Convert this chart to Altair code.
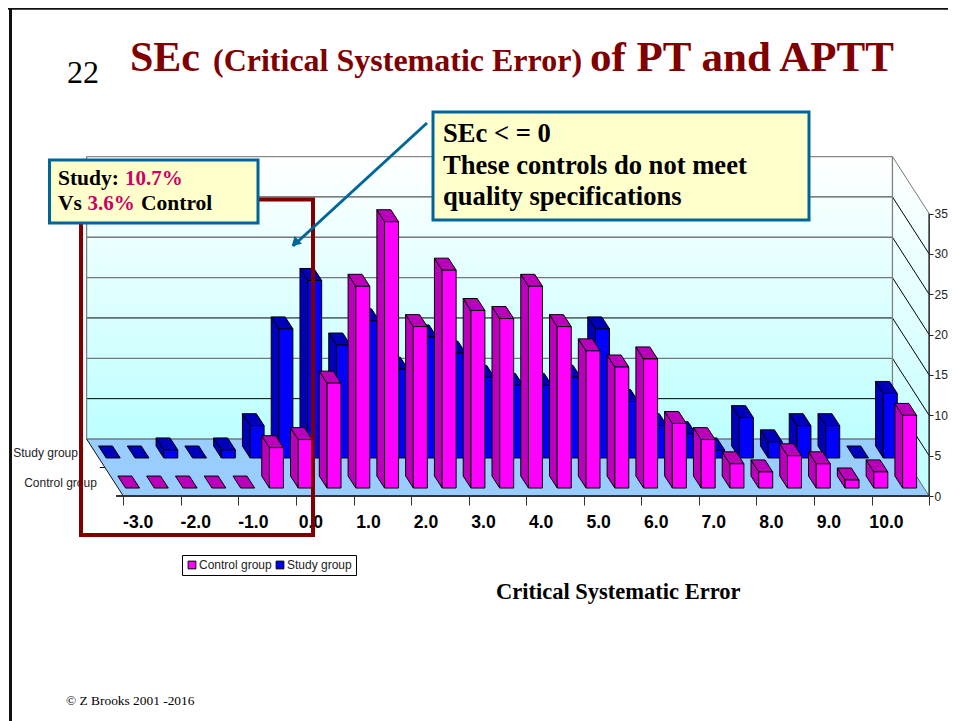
import altair as alt
import pandas as pd

# ---------- data ----------
bins = list(range(28))
control_group = [0, 0, 0, 0, 0, 5, 6, 13, 25, 33, 20, 27, 22, 21, 25, 20, 17, 15, 16, 8, 6, 3, 2, 4, 3, 1, 2, 9]
study_group = [0, 0, 1, 0, 1, 4, 16, 22, 14, 17, 11, 15, 13, 10, 9, 9, 10, 16, 7, 4, 3, 1, 5, 2, 4, 4, 0, 8]
y_ticks = [0, 5, 10, 15, 20, 25, 30, 35]
x_labels = ["-3.0", "-2.0", "-1.0", "0.0", "1.0", "2.0", "3.0", "4.0", "5.0", "6.0", "7.0", "8.0", "9.0", "10.0", ""]
series_names = ["Control group", "Study group"]

# ---------- projection of the 3-D look ----------
W, H = 940, 713
RIGHT = 8 + W
PX_BIN = 28.78
PX_VAL = 8.07
X0, Y0 = 123.3, 496.0
DEPTH_X = -36.7 / PX_BIN
DEPTH_Y = 57.0 / PX_VAL
GAP, BAR_W = 0.257, 0.486
BAR_DEPTH = 0.21
FRONT = {"Control group": 0.14, "Study group": 0.667}

xs = alt.Scale(domain=[(8 - X0) / PX_BIN, (RIGHT - X0) / PX_BIN], nice=False, zero=False)
ys = alt.Scale(domain=[(Y0 - 721) / PX_VAL, (Y0 - 8) / PX_VAL], nice=False, zero=False)
color_scale = alt.Scale(domain=series_names, range=["#FF00FF", "#0000FF"])
SIDE = {"Control group": "#BB00BB", "Study group": "#0000BB"}


def X(**k):
    return alt.X("x:Q", scale=xs, axis=k.pop("axis", None), title=None)


def Y(**k):
    return alt.Y("y:Q", scale=ys, axis=k.pop("axis", None), title=None)


def faces(name, values):
    d = FRONT[name]
    side, top, front = [], [], []
    for i, v in zip(bins, values):
        xf = i + GAP + d * DEPTH_X
        yf = d * DEPTH_Y
        xb = xf + BAR_DEPTH * DEPTH_X
        yb = yf + BAR_DEPTH * DEPTH_Y
        top += [
            {"bar": i, "y": yf + v, "x": xf, "x2": xf + BAR_W},
            {"bar": i, "y": yb + v, "x": xb, "x2": xb + BAR_W},
        ]
        if v > 0:
            side += [
                {"bar": i, "x": xb, "y": yb, "y2": yb + v},
                {"bar": i, "x": xf, "y": yf, "y2": yf + v},
            ]
            front.append({"bar": i, "x": xf, "x2": xf + BAR_W, "y": yf, "y2": yf + v, "series": name})
    return pd.DataFrame(side), pd.DataFrame(top), pd.DataFrame(front)


def bar_layers(name, values):
    side, top, front = faces(name, values)
    return [
        alt.Chart(side).mark_area(fill=SIDE[name], stroke="black", strokeWidth=1).encode(
            x=X(), y=Y(), y2="y2:Q", detail="bar:N"),
        alt.Chart(top).mark_area(orient="horizontal", fill=SIDE[name], stroke="black", strokeWidth=1).encode(
            y=Y(), x=X(), x2="x2:Q", detail="bar:N"),
        alt.Chart(front).mark_rect(stroke="black", strokeWidth=1).encode(
            x=X(), x2="x2:Q", y=Y(), y2="y2:Q",
            color=alt.Color("series:N", scale=color_scale, legend=alt.Legend(
                orient="none", legendX=174, legendY=547, direction="horizontal", title=None,
                fillColor="white", strokeColor="black", padding=4, symbolType="square",
                symbolSize=60, symbolStrokeColor="black", symbolStrokeWidth=1,
                labelFont="Liberation Sans", labelFontSize=12, labelColor="#222",
                columnPadding=2, labelOffset=1))),
    ]


one = pd.DataFrame({"a": [0]})


def px_text(x, y, text, size, color="black", font="Liberation Serif", weight="bold", align="left"):
    return alt.Chart(one).mark_text(align=align, baseline="alphabetic", font=font, fontSize=size,
                                    fontWeight=weight, color=color).encode(
        x=alt.value(x - 8), y=alt.value(y - 8), text=alt.value(text))


def px_box(x1, y1, x2, y2, **mark):
    return alt.Chart(one).mark_rect(**mark).encode(
        x=alt.value(x1 - 8), x2=alt.value(x2 - 8), y=alt.value(y1 - 8), y2=alt.value(y2 - 8))


def px_rule(x1, y1, x2, y2, **mark):
    return alt.Chart(one).mark_rule(**mark).encode(
        x=alt.value(x1 - 8), x2=alt.value(x2 - 8), y=alt.value(y1 - 8), y2=alt.value(y2 - 8))


# ---------- walls and floor ----------
wall_grad = alt.Gradient(gradient="linear", x1=0, x2=0, y1=0, y2=1, stops=[
    alt.GradientStop(offset=0, color="#FFFFFF"), alt.GradientStop(offset=1, color="#BDFFFF")])
XR = bins[-1] + 1
wall_df = pd.DataFrame({"x": [DEPTH_X], "x2": [XR + DEPTH_X], "y": [DEPTH_Y], "y2": [35 + DEPTH_Y]})
side_df = pd.DataFrame({"x": [XR + DEPTH_X, XR], "y": [DEPTH_Y, 0], "y2": [35 + DEPTH_Y, 35]})
floor_df = pd.DataFrame({"y": [DEPTH_Y, 0], "x": [DEPTH_X, 0], "x2": [XR + DEPTH_X, XR]})

tick_vals = [i * 2 for i in range(len(x_labels))]
label_expr = "[" + ",".join(repr(s) for s in x_labels) + "][datum.value/2]"
x_axis = alt.Axis(values=tick_vals, labelExpr=label_expr, domain=False, grid=False, offset=-225,
                  tickSize=9, tickColor="#333", tickWidth=1, labelOffset=14.4, labelPadding=8,
                  labelFont="Liberation Sans", labelFontSize=17.6, labelFontWeight="bold",
                  labelColor="black", labelBaseline="top", labelAngle=0, labelOverlap=False,
                  labelFlush=False)
y_axis = alt.Axis(values=y_ticks, domain=False, grid=False, orient="right", offset=-19, tickSize=4,
                  tickColor="#222", tickWidth=1, labelPadding=1, labelFont="Liberation Sans",
                  labelFontSize=12, labelColor="#222", labelOverlap=False)

wall = alt.Chart(wall_df).mark_rect(fill=wall_grad).encode(
    x=X(axis=x_axis), x2="x2:Q", y=Y(axis=y_axis), y2="y2:Q")
side_wall = alt.Chart(side_df).mark_area(fill=wall_grad).encode(x=X(), y=Y(), y2="y2:Q")
floor = alt.Chart(floor_df).mark_area(orient="horizontal", fill="#99CCFF").encode(y=Y(), x=X(), x2="x2:Q")

# grid lines: back wall plus the diagonal on the side wall
grid_style = {5: ("#000000", 1), 10: ("#777777", 1.3), 15: ("#000000", 1), 20: ("#777777", 1.3),
              25: ("#777777", 1.3), 30: ("#555555", 1.2), 35: ("#888888", 1.3)}
grid_rows = []
for lv in y_ticks[1:]:
    c, w = grid_style[lv]
    dc = "#000000" if lv < 35 else "#777777"
    grid_rows += [
        {"lv": f"b{lv}", "x": DEPTH_X, "y": lv + DEPTH_Y, "c": c, "w": w},
        {"lv": f"b{lv}", "x": XR + DEPTH_X, "y": lv + DEPTH_Y, "c": c, "w": w},
        {"lv": f"d{lv}", "x": XR + DEPTH_X, "y": lv + DEPTH_Y, "c": dc, "w": 1},
        {"lv": f"d{lv}", "x": XR, "y": lv, "c": dc, "w": 1},
    ]
grid = alt.Chart(pd.DataFrame(grid_rows)).mark_line().encode(
    x=X(), y=Y(), detail="lv:N",
    stroke=alt.Stroke("c:N", scale=None), strokeWidth=alt.StrokeWidth("w:Q", scale=None))

edge_rows = pd.DataFrame({"x": [DEPTH_X, XR + DEPTH_X], "y": [DEPTH_Y, DEPTH_Y], "y2": [35 + DEPTH_Y, 35 + DEPTH_Y]})
wall_edges = alt.Chart(edge_rows).mark_rule(color="#808080", strokeWidth=1.3).encode(x=X(), y=Y(), y2="y2:Q")
floor_back = alt.Chart(pd.DataFrame({"x": [DEPTH_X], "x2": [XR + DEPTH_X], "y": [DEPTH_Y]})).mark_rule(
    color="#777777", strokeWidth=1.5).encode(x=X(), x2="x2:Q", y=Y())
floor_front = alt.Chart(pd.DataFrame({"x": [-0.25], "x2": [XR], "y": [0]})).mark_rule(
    color="#333333", strokeWidth=2).encode(x=X(), x2="x2:Q", y=Y())
floor_left = alt.Chart(pd.DataFrame({"x": [DEPTH_X, 0], "y": [DEPTH_Y, 0]})).mark_line(
    color="#111111", strokeWidth=1).encode(x=X(), y=Y())
floor_right = alt.Chart(pd.DataFrame({"x": [XR + DEPTH_X, XR], "y": [DEPTH_Y, 0]})).mark_line(
    color="#666666", strokeWidth=1).encode(x=X(), y=Y())
y_line = alt.Chart(pd.DataFrame({"x": [XR], "y": [0], "y2": [35]})).mark_rule(
    color="#222222", strokeWidth=1.5).encode(x=X(), y=Y(), y2="y2:Q")
series_tick = alt.Chart(pd.DataFrame({"x": [0.5 * DEPTH_X - 0.18], "x2": [0.5 * DEPTH_X], "y": [0.5 * DEPTH_Y]})).mark_rule(
    color="#111111", strokeWidth=1).encode(x=X(), x2="x2:Q", y=Y())
series_df = pd.DataFrame({
    "name": ["Control group", "Study group"],
    "x": [0.25 * DEPTH_X - 0.6, 0.75 * DEPTH_X - 0.62],
    "y": [0.25 * DEPTH_Y - 0.1, 0.75 * DEPTH_Y],
})
series_labels = alt.Chart(series_df).mark_text(align="right", baseline="middle", font="Liberation Sans",
                                               fontSize=12, color="#222").encode(x=X(), y=Y(), text="name:N")

# ---------- annotations ----------
TITLE = "#800000"
BORDER = "#006699"
PINK = "#CC0066"
annotations = [
    px_box(81, 199.5, 313, 535, fill=None, stroke="#800000", strokeWidth=4),
    px_rule(427, 123, 293, 246, color=BORDER, strokeWidth=3),
    alt.Chart(one).mark_point(shape="triangle-up", filled=True, color=BORDER, size=110, angle=227, opacity=1).encode(
        x=alt.value(295 - 8), y=alt.value(243 - 8)),
    px_box(49.5, 160, 258, 223, fill="#FFFFCC", stroke=BORDER, strokeWidth=3),
    px_text(58, 185, "Study:", 21.5),
    px_text(125, 185, "10.7%", 21, color=PINK),
    px_text(58, 210, "Vs", 21.5),
    px_text(87.5, 210, "3.6%", 21, color=PINK),
    px_text(141, 210, "Control", 21.5),
    px_box(433, 112, 809, 220, fill="#FFFFCC", stroke=BORDER, strokeWidth=3),
    px_text(443, 142, "SEc < = 0", 26.6),
    px_text(443, 174, "These controls do not meet", 26.6),
    px_text(443, 205, "quality specifications", 26.6),
    px_text(67, 83, "22", 32, weight="normal"),
    px_text(130, 71, "SEc", 42, color=TITLE),
    px_text(213, 71, "(Critical Systematic Error)", 32, color=TITLE),
    px_text(590, 71, "of PT and APTT", 43, color=TITLE),
    px_text(496, 599, "Critical Systematic Error", 22.5),
    px_text(66, 705, "\u00a9 Z Brooks 2001 -2016", 13.4, weight="normal"),
    px_rule(10.5, 8, 10.5, 721, color="#111111", strokeWidth=3),
    px_rule(8, 8.5, RIGHT, 8.5, color="#111111", strokeWidth=2.5),
]

chart = alt.layer(
    wall, side_wall, grid, wall_edges, floor, floor_back, floor_right, floor_left, floor_front, y_line,
    series_tick, series_labels,
    *bar_layers("Study group", study_group),
    *bar_layers("Control group", control_group),
    *annotations,
).resolve_axis(x="independent", y="independent").properties(
    width=W, height=H, padding=0, autosize=alt.AutoSizeParams(type="none")
).configure_view(stroke=None)

chart.save("out.html", embed_options={"renderer": "svg", "actions": False})
